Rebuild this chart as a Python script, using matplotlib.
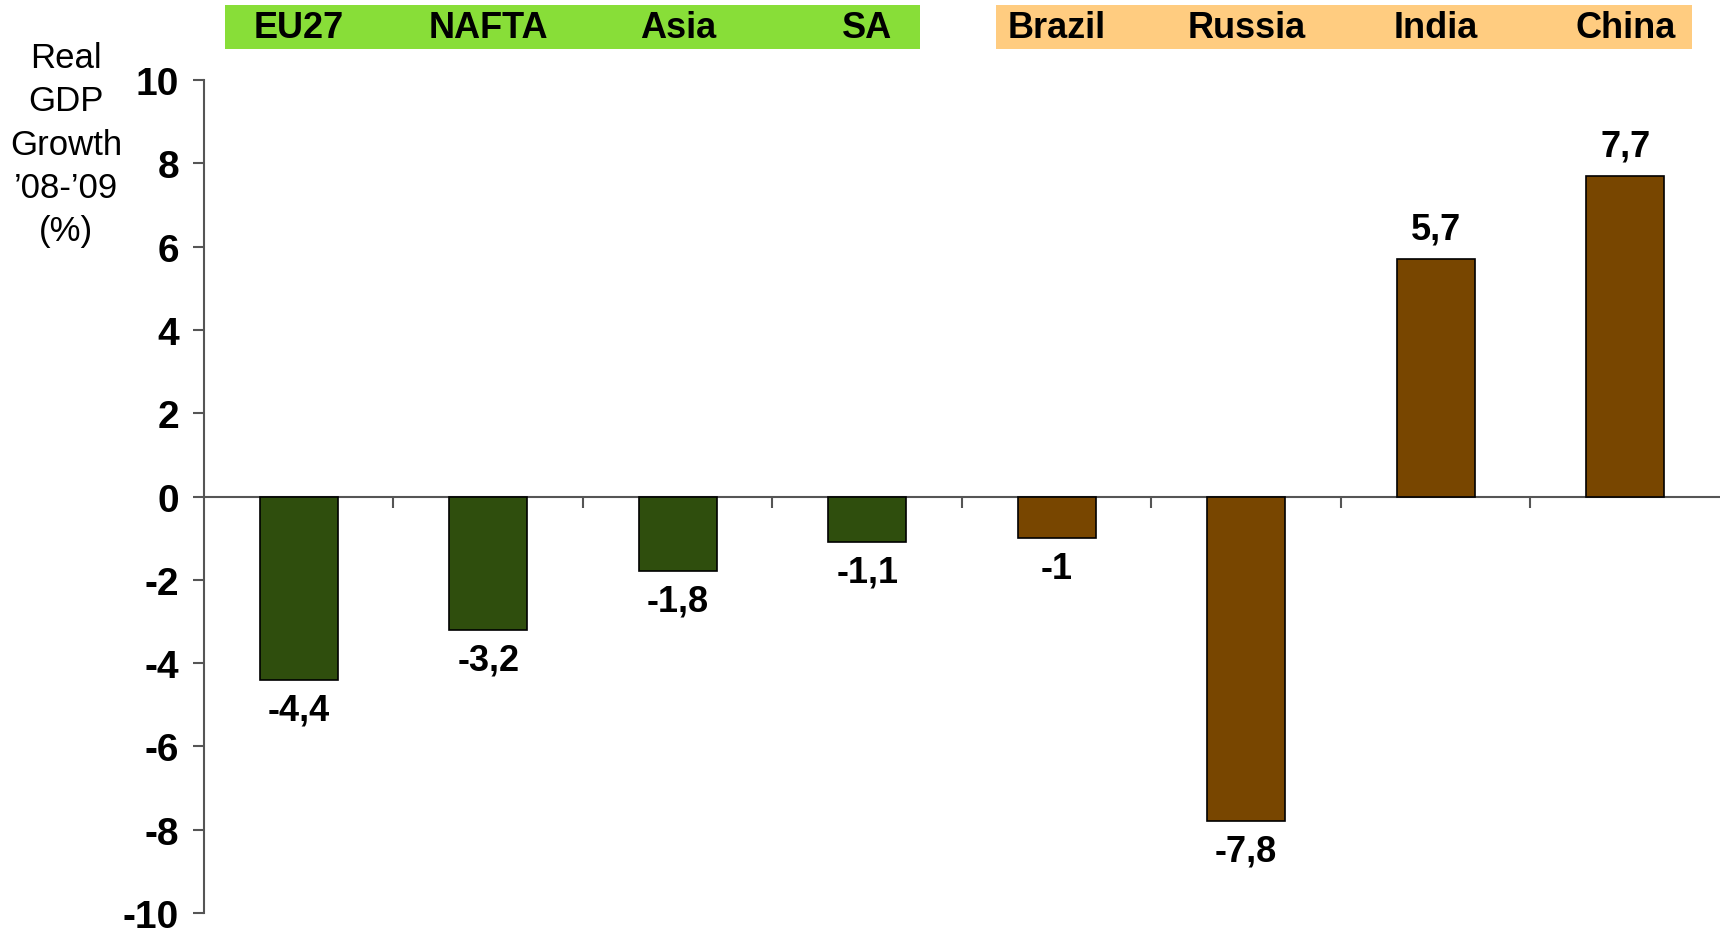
import numpy as np
import matplotlib
matplotlib.use("Agg")
import matplotlib.pyplot as plt
from matplotlib.patches import Rectangle
import matplotlib.transforms as mtransforms

# real GDP growth 2008-2009, regional blocs vs BRIC countries
regions = ['EU27', 'NAFTA', 'Asia', 'SA']
bric = ['Brazil', 'Russia', 'India', 'China']
region_growth = [-4.4, -3.2, -1.8, -1.1]
bric_growth = [-1.0, -7.8, 5.7, 7.7]

labels = regions + bric
values = region_growth + bric_growth
bar_colors = ['#2f4e0d'] * len(regions) + ['#784600'] * len(bric)

plt.rcParams['font.family'] = ['Liberation Sans', 'DejaVu Sans']

fig = plt.figure(figsize=(17.2, 9.29), dpi=100)
ax = fig.add_axes([0.1186, 0.0161, 0.8814, 0.8967])

position = np.arange(len(labels))
ax.bar(position, values, 0.41, color=bar_colors, edgecolor='black', linewidth=1.2, zorder=3)

def fmt(v):
    return ('%g' % v).replace('.', ',')

for p, v in zip(position, values):
    off = 21.5 if v > 0 else -21.5
    ax.annotate(fmt(v), (p, v), xytext=(0, off), textcoords='offset points',
                ha='center', va='center', fontsize=26, fontweight='bold')

ax.set_xlim(-0.5, len(labels) - 0.5)
ax.set_ylim(-10, 10)
ax.set_yticks(np.arange(-10, 11, 2))
ax.set_yticklabels([str(t) for t in range(-10, 11, 2)], fontsize=28, fontweight='bold')

# boundary ticks along the zero line
ax.set_xticks(np.arange(0.5, len(labels) - 0.5, 1))
ax.set_xticklabels([])
ax.spines['bottom'].set_position(('data', 0))
ax.spines['top'].set_visible(False)
ax.spines['right'].set_visible(False)
for s in ('left', 'bottom'):
    ax.spines[s].set_color('#555555')
    ax.spines[s].set_linewidth(1.5)
ax.tick_params(axis='both', direction='out', length=8, width=1.5, color='#555555')
ax.tick_params(axis='y', pad=10)

fig.text(0.0384, 0.955, "Real\nGDP\nGrowth\n\u201908-\u201909\n(%)",
         ha='center', va='top', fontsize=25, linespacing=1.4)

# coloured header bands with the group names
trans = mtransforms.blended_transform_factory(ax.transData, fig.transFigure)
ax.add_patch(Rectangle((-0.39, 0.946), 3.67, 0.048, transform=trans, facecolor='#88de38',
                       edgecolor='none', clip_on=False))
ax.add_patch(Rectangle((3.68, 0.946), 3.67, 0.048, transform=trans, facecolor='#ffcc80',
                       edgecolor='none', clip_on=False))
for p, name in zip(position, labels):
    ax.text(p, 0.969, name, transform=trans, ha='center', va='center',
            fontsize=26, fontweight='bold')

fig.savefig('out.png', dpi=100)
